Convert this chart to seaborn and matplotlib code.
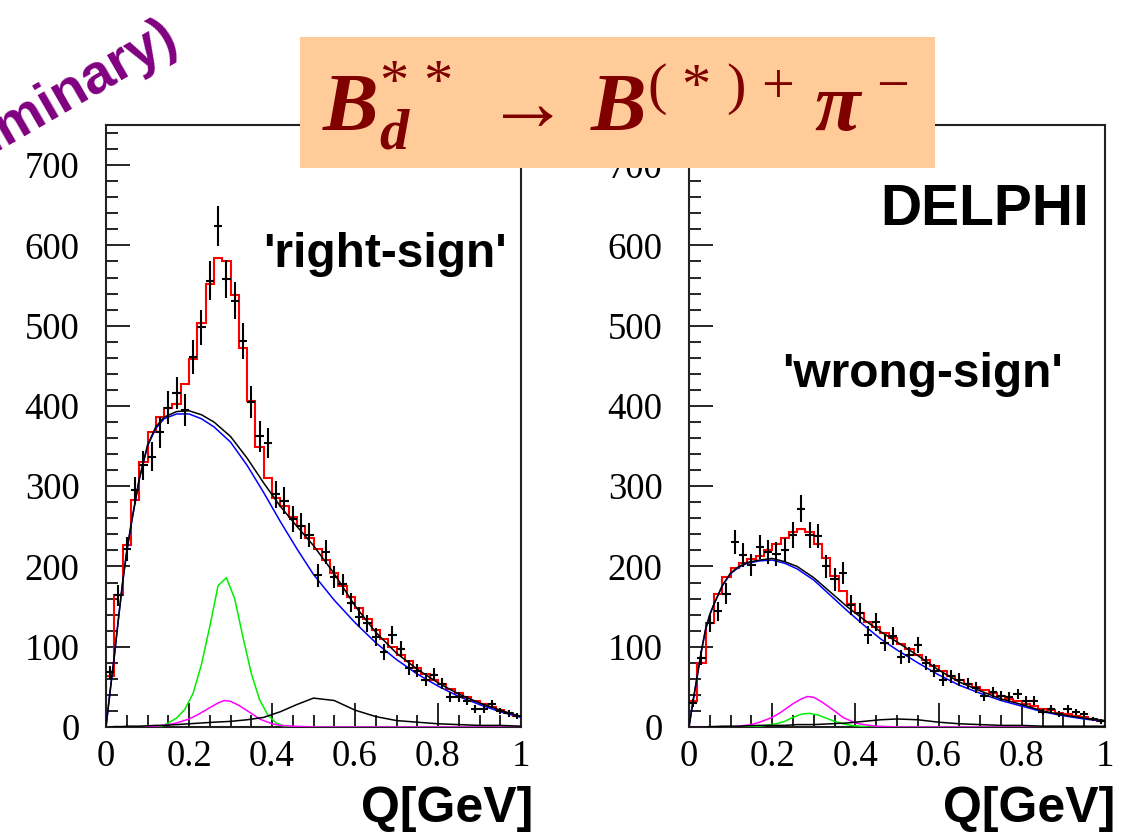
import numpy as np
import matplotlib
matplotlib.use("Agg")
import matplotlib.pyplot as plt
import seaborn as sns
from matplotlib.patches import Rectangle
from matplotlib.ticker import MultipleLocator, FuncFormatter

# ---- data ----
Q_EDGES = np.round(np.arange(0, 1.0001, 0.02), 2)
Q_CENTERS = Q_EDGES[:-1] + 0.01

# right-sign panel
rs_data = [68, 164, 222, 295, 326, 337, 367, 398, 416, 395, 461, 498, 556, 624, 558, 531, 481, 405, 362, 354,
           290, 282, 259, 250, 239, 189, 218, 187, 178, 155, 137, 129, 112, 93, 115, 97, 74, 70, 59, 65,
           54, 37, 37, 33, 23, 23, 29, 20, 17, 14]
rs_err = [8, 13, 15, 17, 18, 18, 19, 20, 20, 20, 21, 22, 24, 25, 24, 23, 22, 20, 19, 19,
          17, 17, 16, 16, 15, 14, 15, 14, 13, 12, 12, 11, 11, 10, 11, 10, 9, 8, 8, 8,
          7, 6, 6, 6, 5, 5, 5, 4, 4, 4]
rs_fit = [63, 164, 227, 283, 330, 367, 386, 397, 402, 427, 458, 503, 552, 584, 580, 538, 472, 406, 349, 310,
          285, 275, 262, 250, 235, 222, 208, 192, 176, 162, 148, 134, 121, 110, 100, 90, 82, 73, 66, 59,
          53, 47, 42, 37, 33, 29, 25, 21, 18, 14]

# wrong-sign panel
ws_data = [30, 86, 129, 144, 166, 230, 214, 202, 224, 218, 216, 221, 239, 272, 239, 238, 200, 184, 192, 152,
           142, 115, 131, 105, 113, 87, 90, 102, 80, 70, 59, 63, 59, 54, 49, 38, 43, 39, 37, 41,
           32, 33, 19, 22, 16, 22, 19, 16, 10, 7]
ws_err = [5, 9, 11, 12, 13, 15, 15, 14, 15, 15, 15, 15, 16, 17, 16, 15, 14, 14, 14, 12,
          12, 11, 11, 10, 11, 9, 10, 10, 9, 8, 8, 8, 8, 7, 7, 6, 7, 6, 6, 6,
          6, 6, 4, 5, 4, 5, 4, 4, 3, 3]
ws_fit = [32, 80, 129, 166, 187, 198, 204, 209, 213, 220, 228, 236, 243, 247, 243, 228, 210, 188, 170, 153,
          142, 131, 124, 117, 111, 104, 97, 90, 83, 76, 70, 64, 59, 54, 50, 46, 42, 38, 35, 32,
          29, 26, 23, 21, 18, 16, 14, 12, 10, 8]

# smooth fit components
curve_q = [0, 0.01, 0.02, 0.03, 0.04, 0.05, 0.06, 0.08, 0.10, 0.12, 0.14, 0.17, 0.20, 0.23, 0.26, 0.30,
           0.34, 0.38, 0.42, 0.46, 0.50, 0.55, 0.60, 0.65, 0.70, 0.75, 0.80, 0.85, 0.90, 0.95, 1.0]
rs_bkg = [0, 45, 88, 135, 180, 218, 250, 308, 350, 372, 384, 390, 390, 384, 374, 355,
          326, 292, 256, 222, 190, 158, 130, 105, 84, 66, 51, 38, 28, 19, 12]
rs_tot = [0, 45, 88, 135, 180, 219, 251, 309, 351, 374, 386, 393, 394, 389, 380, 362,
          335, 304, 275, 250, 226, 191, 151, 118, 92, 72, 55, 41, 30, 21, 13]
rs_refl = [0, 0, 0.5, 0.5, 0.5, 1, 1, 1, 1.5, 2, 2, 3, 4, 5, 6, 7,
           9, 12, 19, 28, 36, 33, 21, 13, 8, 6, 4, 3, 2, 2, 1]
ws_bkg = [0, 33, 64, 95, 122, 140, 153, 176, 191, 199, 204, 207, 208, 204, 197, 183,
          164, 145, 127, 110, 96, 80, 65, 52, 42, 33, 26, 19, 14, 10, 7]
ws_tot = [0, 33, 64, 95, 122, 140, 153, 176, 192, 200, 205, 208, 210, 206, 200, 186,
          168, 150, 134, 119, 106, 89, 71, 56, 45, 35, 28, 20, 15, 11, 8]
ws_refl = [0, 0, 0, 0, 0, 0.5, 0.5, 1, 1, 1, 1.5, 2, 2, 2, 3, 3,
           4, 5, 7, 9, 10, 9, 6, 4, 3, 2, 2, 1, 1, 1, 1]

green_q_rs = [0, 0.13, 0.15, 0.17, 0.19, 0.21, 0.23, 0.25, 0.27, 0.29, 0.31, 0.33, 0.35, 0.37, 0.39, 0.41, 0.43, 0.45, 1.0]
green_rs = [0, 0, 5, 11, 22, 42, 78, 125, 176, 186, 160, 112, 67, 34, 15, 5, 1, 0, 0]
green_q_ws = [0, 0.13, 0.17, 0.21, 0.23, 0.25, 0.27, 0.29, 0.31, 0.33, 0.35, 0.37, 0.39, 0.43, 1.0]
green_ws = [0, 0, 1, 4, 7, 12, 16, 17, 15, 11, 7, 4, 2, 0, 0]

mag_q = [0, 0.10, 0.12, 0.15, 0.17, 0.20, 0.22, 0.25, 0.27, 0.285, 0.30, 0.32, 0.35, 0.37, 0.40, 0.42, 0.45, 0.50, 1.0]
mag_rs = [0, 0, 1, 3, 5, 10, 15, 24, 30, 33, 32, 27, 17, 10, 4, 2, 1, 0, 0]
mag_ws = [0, 0, 1, 3, 6, 12, 18, 29, 35, 38, 37, 31, 20, 12, 5, 3, 1, 0, 0]

# ---- style ----
sns.set_theme(style="white")
plt.rcParams["font.family"] = ["Liberation Serif", "DejaVu Serif"]
plt.rcParams["text.color"] = "black"
plt.rcParams["mathtext.fontset"] = "custom"
plt.rcParams["mathtext.rm"] = "Liberation Serif"
plt.rcParams["mathtext.it"] = "Liberation Serif:italic"
plt.rcParams["mathtext.bf"] = "Liberation Serif:bold"
plt.rcParams["mathtext.bfit"] = "Liberation Serif:bold:italic"

W, H = 1128, 832
fig = plt.figure(figsize=(W / 100, H / 100), dpi=100)
ax1 = fig.add_axes([106 / W, 1 - 727 / H, 415 / W, 602 / H])
ax2 = fig.add_axes([689 / W, 1 - 727 / H, 416 / W, 602 / H])


def draw_panel(ax, fit, data, err, bkg, tot, refl, gq, green, mag, xlab_x):
    ax.stairs(fit, Q_EDGES, baseline=0, color="red", lw=1.5, zorder=2)
    sns.lineplot(x=curve_q, y=bkg, ax=ax, color="blue", lw=1.1, estimator=None, sort=False, zorder=3)
    sns.lineplot(x=curve_q, y=tot, ax=ax, color="black", lw=1.1, estimator=None, sort=False, zorder=3)
    sns.lineplot(x=gq, y=green, ax=ax, color="#00ee00", lw=1.1, estimator=None, sort=False, zorder=3)
    sns.lineplot(x=mag_q, y=mag, ax=ax, color="magenta", lw=1.1, estimator=None, sort=False, zorder=3)
    sns.lineplot(x=curve_q, y=refl, ax=ax, color="black", lw=1.1, estimator=None, sort=False, zorder=3)
    ax.errorbar(Q_CENTERS, data, yerr=err, xerr=0.01, fmt="none", ecolor="black",
                elinewidth=1.5, capsize=0, zorder=5)

    ax.set_xlim(0, 1)
    ax.set_ylim(0, 750)
    ax.set_xlabel("")
    ax.set_ylabel("")
    ax.xaxis.set_major_locator(MultipleLocator(0.2))
    ax.xaxis.set_minor_locator(MultipleLocator(0.05))
    ax.yaxis.set_major_locator(MultipleLocator(100))
    ax.yaxis.set_minor_locator(MultipleLocator(20))
    ax.xaxis.set_major_formatter(FuncFormatter(lambda v, p: f"{v:g}"))
    ax.tick_params(which="both", direction="in", top=False, right=False,
                   bottom=True, left=True, labelsize=26.5, color="black", labelcolor="black", width=1.2)
    ax.tick_params(which="major", length=17)
    ax.tick_params(which="minor", length=8.5)
    ax.tick_params(axis="y", pad=19)
    ax.tick_params(axis="x", pad=9)
    for s in ax.spines.values():
        s.set_linewidth(1.5)
        s.set_color("#222222")
    ax.text(xlab_x, -0.158, "Q[GeV]", transform=ax.transAxes, ha="right", va="baseline",
            fontsize=36, fontweight="bold", color="black", family=["Liberation Sans"])


draw_panel(ax1, rs_fit, rs_data, rs_err, rs_bkg, rs_tot, rs_refl, green_q_rs, green_rs, mag_rs, 1.029)
draw_panel(ax2, ws_fit, ws_data, ws_err, ws_bkg, ws_tot, ws_refl, green_q_ws, green_ws, mag_ws, 1.024)

ax1.text(0.966, 573, "'right-sign'", ha="right", va="baseline", fontsize=34.5,
         fontweight="bold", color="black", family=["Liberation Sans"])
ax2.text(0.899, 423, "'wrong-sign'", ha="right", va="baseline", fontsize=34.5,
         fontweight="bold", color="black", family=["Liberation Sans"])
ax2.text(0.9615, 625, "DELPHI", ha="right", va="baseline", fontsize=41,
         fontweight="bold", color="black", family=["Liberation Sans"])

# title box
fig.patches.append(Rectangle((300 / W, 1 - 168 / H), 635 / W, 131 / H, transform=fig.transFigure,
                             facecolor="#FFCC99", edgecolor="none", zorder=10))
title = r"$\mathbfit{B}_{\mathbfit{d}}^{*\,*}\,\rightarrow\,\mathbfit{B}^{(\,*\,)\,+}\,\mathbfit{\pi}^{\,-}$"
fig.text(615 / W, 1 - 130 / H, title, ha="center", va="baseline", fontsize=60,
         color="#800000", zorder=11)

fig.text(180 / W, 1 - 45 / H, "(Preliminary)", rotation=30, rotation_mode="anchor",
         ha="right", va="baseline", fontsize=40, fontweight="bold", color="#800080",
         family=["Liberation Sans"], zorder=11)

fig.savefig("out.png", dpi=100)
